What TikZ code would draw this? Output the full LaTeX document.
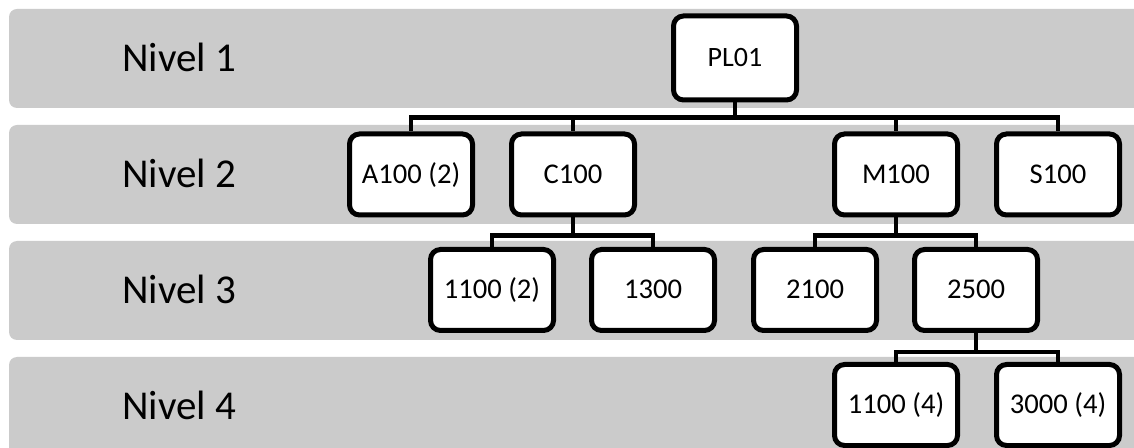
\documentclass[tikz,border=0pt]{standalone}
\usepackage{fontspec}
\setmainfont{Carlito}
\definecolor{bandgray}{RGB}{203,203,203}
\tikzset{band/.style = {fill=bandgray, rounded corners=4pt},
         item/.style = {draw, fill=white, line width=2.5pt, rounded corners=5pt,
                        minimum width=61.5pt, minimum height=40.5pt, inner sep=0pt,
                        font=\fontsize{14.3}{16}\selectfont, text height=9pt, text depth=0pt},
         level/.style = {anchor=base west, inner sep=0pt, font=\fontsize{20.5}{24}\selectfont},
         link/.style = {line width=2.4pt}}

\begin{document}
\begin{tikzpicture}[x=0.5pt, y=-0.5pt]
  \useasboundingbox (0, 0) rectangle (1134, 448);
  \foreach \n in {1,...,4} {
    \fill [band] (9, {9 + 116*(\n-1)}) rectangle (1170, {108 + 116*(\n-1)});
    \node [level] (nivel\n) at (122, {71.5 + 116*(\n-1)}) {Nivel \n};
  }
  \node [item, font=\fontsize{14}{16}\selectfont, minimum height=42pt] (pl01) at (735, 58) {PL01};
  \node [item] (a100) at (411, 174.5) {A100 (2)};
  \node [item] (c100) at (573, 174.5) {C100};
  \node [item] (m100) at (896, 174.5) {M100};
  \node [item] (s100) at (1058, 174.5) {S100};
  \node [item] (c1100) at (492, 290) {1100 (2)};
  \node [item] (c1300) at (653, 290) {1300};
  \node [item] (m2100) at (815, 290) {2100};
  \node [item] (m2500) at (976, 290) {2500};
  \node [item] (m1100) at (896, 405) {1100 (4)};
  \node [item] (m3000) at (1058, 405) {3000 (4)};
  \foreach \c in {a100, c100, m100, s100}
    \draw [link] (pl01.south) -- ++(0, 15) -| (\c.north);
  \foreach \c in {c1100, c1300}
    \draw [link] (c100.south) -- ++(0, 18) -| (\c.north);
  \foreach \c in {m2100, m2500}
    \draw [link] (m100.south) -- ++(0, 18) -| (\c.north);
  \foreach \c in {m1100, m3000}
    \draw [link] (m2500.south) -- ++(0, 19) -| (\c.north);
\end{tikzpicture}
\end{document}
